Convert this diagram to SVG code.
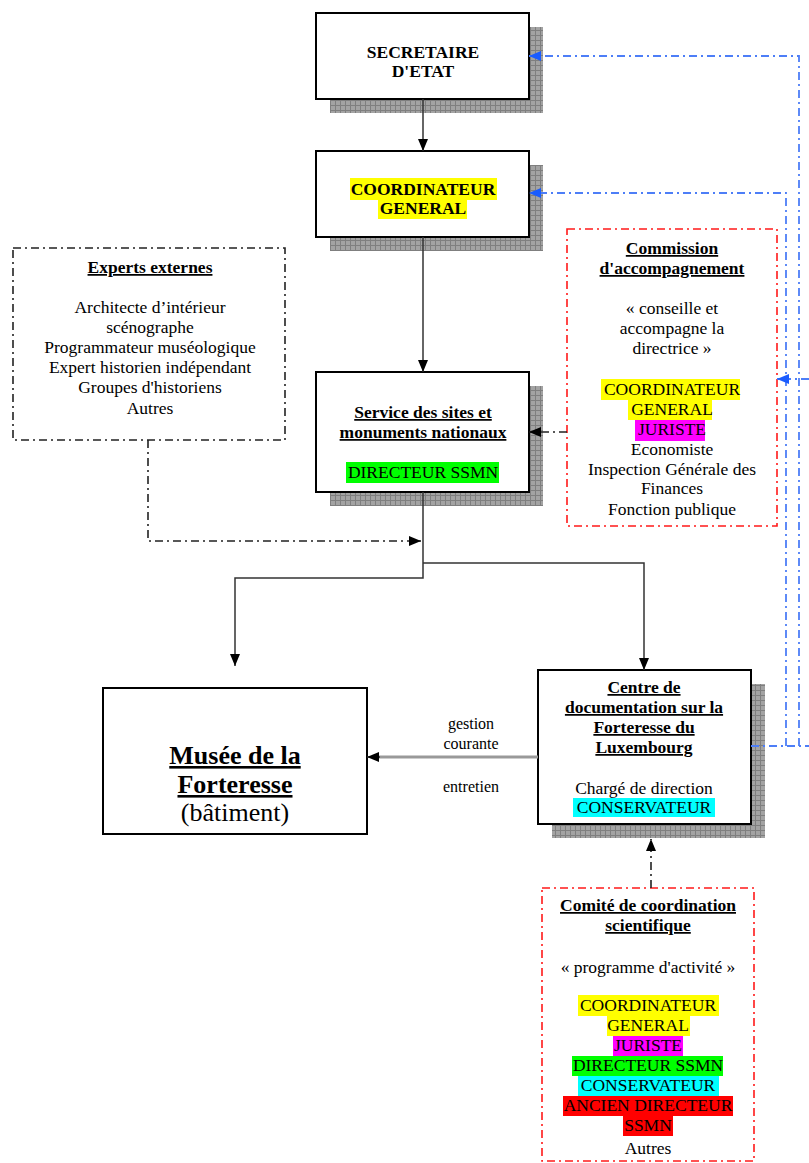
<svg xmlns="http://www.w3.org/2000/svg" width="809" height="1163" viewBox="0 0 809 1163">
<style>
.t{font-family:"Liberation Serif","Times New Roman",serif;font-size:17.5px;text-anchor:middle;fill:#000}
.b{font-weight:bold}
.u{text-decoration:underline}
.box{fill:#fff;stroke:#000;stroke-width:2}
.sh{fill:url(#grid)}
.dd{fill:none;stroke-width:1.6;stroke-dasharray:8 4 2 4}
.blk{stroke:#222}
.red{stroke:#ff1a1a}
.blue{fill:none;stroke:#4d7ef7;stroke-width:1.8;stroke-dasharray:8 4 2 4}
.con{fill:none;stroke:#333;stroke-width:1.5}
</style>
<defs>
<pattern id="grid" width="5" height="5" patternUnits="userSpaceOnUse">
<rect width="5" height="5" fill="#a3a3a3"/>
<path d="M0 0.5H5M0.5 0V5" stroke="#7f7f7f" stroke-width="1"/>
</pattern>
<marker id="ah" viewBox="0 0 12 10" refX="12" refY="5" markerWidth="12" markerHeight="10" markerUnits="userSpaceOnUse" orient="auto">
<path d="M0,0 L12,5 L0,10 z" fill="#000"/>
</marker>
<marker id="ahb" viewBox="0 0 12 10" refX="12" refY="5" markerWidth="12" markerHeight="10" markerUnits="userSpaceOnUse" orient="auto">
<path d="M0,0 L12,5 L0,10 z" fill="#1a5cff"/>
</marker>
</defs>
<rect width="809" height="1163" fill="#fff"/>

<g id="secretaire">
<rect class="sh" x="330" y="27" width="213" height="86"/>
<rect class="box" x="316" y="13" width="213" height="86"/>
<text class="t b" x="423" y="58">SECRETAIRE</text>
<text class="t b" x="423" y="77">D'ETAT</text>
</g>

<g id="coordinateur">
<rect class="sh" x="330" y="165" width="213" height="86"/>
<rect class="box" x="316" y="151" width="213" height="86"/>
<rect x="350" y="178" width="147" height="22" fill="#ffff00"/>
<rect x="378" y="200" width="89" height="19" fill="#ffff00"/>
<text class="t b" x="423" y="195">COORDINATEUR</text>
<text class="t b" x="423" y="214">GENERAL</text>
</g>

<g id="experts">
<rect class="dd blk" x="13" y="248" width="272" height="192"/>
<text class="t b u" x="150" y="273">Experts externes</text>
<text class="t" x="150" y="313">Architecte d’intérieur</text>
<text class="t" x="150" y="333">scénographe</text>
<text class="t" x="150" y="353">Programmateur muséologique</text>
<text class="t" x="150" y="373">Expert historien indépendant</text>
<text class="t" x="150" y="393">Groupes d'historiens</text>
<text class="t" x="150" y="414">Autres</text>
</g>

<g id="service">
<rect class="sh" x="330" y="386" width="213" height="120"/>
<rect class="box" x="316" y="372" width="213" height="120"/>
<text class="t b u" x="423" y="418">Service des sites et</text>
<text class="t b u" x="423" y="438">monuments nationaux</text>
<rect x="346" y="462" width="153" height="21" fill="#00ff00"/>
<text class="t" x="423" y="478">DIRECTEUR SSMN</text>
</g>

<g id="commission">
<rect class="dd red" x="567" y="229" width="210" height="297"/>
<text class="t b u" x="672" y="254">Commission</text>
<text class="t b u" x="672" y="274">d'accompagnement</text>
<text class="t" x="672" y="314">« conseille et</text>
<text class="t" x="672" y="334">accompagne la</text>
<text class="t" x="672" y="354">directrice »</text>
<rect x="601" y="379" width="139" height="21" fill="#ffff00"/>
<rect x="628" y="400" width="84" height="20" fill="#ffff00"/>
<rect x="635" y="420" width="70" height="21" fill="#ff00ff"/>
<text class="t" x="672" y="395">COORDINATEUR</text>
<text class="t" x="672" y="415">GENERAL</text>
<text class="t" x="672" y="435">JURISTE</text>
<text class="t" x="672" y="455">Economiste</text>
<text class="t" x="672" y="475">Inspection Générale des</text>
<text class="t" x="672" y="494">Finances</text>
<text class="t" x="672" y="515">Fonction publique</text>
</g>

<g id="musee">
<rect class="box" x="103" y="688" width="264" height="146"/>
<text class="t b u" x="235" y="764" style="font-size:26px">Musée de la</text>
<text class="t b u" x="235" y="793" style="font-size:26px">Forteresse</text>
<text class="t" x="235" y="821" style="font-size:26px">(bâtiment)</text>
</g>

<g id="centre">
<rect class="sh" x="552" y="684" width="213" height="154"/>
<rect class="box" x="538" y="670" width="213" height="154"/>
<text class="t b u" x="644" y="693">Centre de</text>
<text class="t b u" x="644" y="713">documentation sur la</text>
<text class="t b u" x="644" y="733">Forteresse du</text>
<text class="t b u" x="644" y="753">Luxembourg</text>
<text class="t" x="644" y="794">Chargé de direction</text>
<rect x="573" y="798" width="142" height="19" fill="#00ffff"/>
<text class="t" x="644" y="813">CONSERVATEUR</text>
</g>

<g id="comite">
<rect class="dd red" x="542" y="888" width="212" height="273"/>
<text class="t b u" x="648" y="911">Comité de coordination</text>
<text class="t b u" x="648" y="931">scientifique</text>
<text class="t" x="648" y="973">« programme d'activité »</text>
<rect x="578" y="995" width="141" height="21" fill="#ffff00"/>
<rect x="607" y="1016" width="83" height="20" fill="#ffff00"/>
<rect x="613" y="1036" width="70" height="20" fill="#ff00ff"/>
<rect x="572" y="1056" width="151" height="20" fill="#00ff00"/>
<rect x="578" y="1076" width="141" height="20" fill="#00ffff"/>
<rect x="563" y="1096" width="170" height="20" fill="#ff0000"/>
<rect x="623" y="1116" width="50" height="20" fill="#ff0000"/>
<text class="t" x="648" y="1011">COORDINATEUR</text>
<text class="t" x="648" y="1031">GENERAL</text>
<text class="t" x="648" y="1051">JURISTE</text>
<text class="t" x="648" y="1071">DIRECTEUR SSMN</text>
<text class="t" x="648" y="1091">CONSERVATEUR</text>
<text class="t" x="648" y="1111">ANCIEN DIRECTEUR</text>
<text class="t" x="648" y="1131">SSMN</text>
<text class="t" x="648" y="1154">Autres</text>
</g>

<g id="connectors">
<path class="con" d="M423,99 V151" marker-end="url(#ah)"/>
<path class="con" d="M423,237 V372" marker-end="url(#ah)"/>
<path class="con" d="M423,492 V578 H235 V666" marker-end="url(#ah)"/>
<path class="con" d="M423,563 H644 V670" marker-end="url(#ah)"/>
<path class="dd blk" d="M148,440 V541 H421" marker-end="url(#ah)"/>
<path class="dd blk" d="M567,432 H529" marker-end="url(#ah)"/>
<path class="dd blk" d="M651,888 V839" marker-end="url(#ah)"/>
<path fill="none" stroke="#999" stroke-width="3" d="M538,757 H378"/>
<path class="con" d="M380,757 H367" marker-end="url(#ah)"/>
<path class="blue" d="M751,746 H809"/>
<path class="blue" d="M799,746 V56 H529" marker-end="url(#ahb)"/>
<path class="blue" d="M786,746 V193 H529" marker-end="url(#ahb)"/>
<path class="blue" d="M809,379 H777" marker-end="url(#ahb)"/>
<text class="t" x="471" y="729" style="font-size:16px">gestion</text>
<text class="t" x="471" y="749" style="font-size:16px">courante</text>
<text class="t" x="471" y="792" style="font-size:16px">entretien</text>
</g>
</svg>
